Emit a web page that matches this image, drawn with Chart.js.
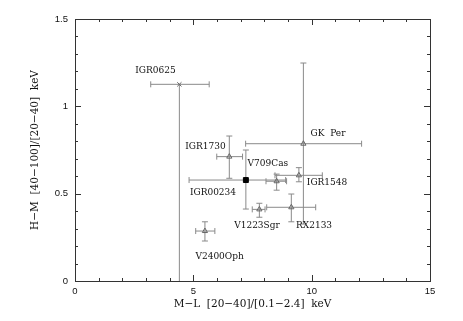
<!DOCTYPE html>
<html>
<head>
<meta charset="utf-8">
<script src="https://cdn.jsdelivr.net/npm/chart.js@4"></script>
<style>
  body { margin: 0; background: #fff; }
  #wrap { width: 463px; height: 321px; position: relative; }
</style>
</head>
<body>
<div id="wrap"><canvas id="hardness"></canvas></div>
<script>
// sources and hardness ratios
const names = ['IGR0625', 'IGR1730', 'IGR00234', 'V709Cas', 'GK  Per', 'IGR1548', 'V1223Sgr', 'RX2133', 'V2400Oph'];
const ml   = [4.41, 6.52, 7.22, 8.52, 9.65, 9.46, 7.79, 9.14, 5.49];
const hm   = [1.126, 0.712, 0.578, 0.571, 0.786, 0.605, 0.41, 0.422, 0.286];
const mlLo = [3.20, 5.99, 4.82, 8.07, 7.21, 8.45, 7.49, 8.10, 5.10];
const mlHi = [5.67, 7.08, 8.90, 8.94, 12.11, 10.45, 8.03, 10.17, 5.91];
const hmLo = [-0.1, 0.588, 0.412, 0.52, 0.326, 0.568, 0.365, 0.339, 0.229];
const hmHi = [1.126, 0.83, 0.75, 0.612, 1.248, 0.649, 0.445, 0.498, 0.339];
const markers = ['crossRot', 'triangle', 'rect', 'triangle', 'triangle', 'triangle', 'triangle', 'triangle', 'triangle'];
// where each name is written (data coords)
const labelX = [3.40, 5.51, 5.83, 8.15, 10.69, 10.65, 7.69, 10.10, 6.11];
const labelY = [1.202, 0.767, 0.503, 0.670, 0.841, 0.561, 0.315, 0.315, 0.137];

const xMajor = [0, 5, 10, 15];
const yMajor = [0, 0.5, 1, 1.5];
const xTitle = 'M\u2212L  [20\u221240]/[0.1\u22122.4]  keV';
const yTitle = 'H\u2212M  [40\u2212100]/[20\u221240]  keV';

const serif = '"DejaVu Serif", serif';

const points = ml.map((x, i) => ({x, y: hm[i]}));

const errorBars = {
  id: 'errorBars',
  beforeDatasetsDraw(chart){
    const {ctx, chartArea:a, scales:{x, y}} = chart;
    ctx.save();
    ctx.beginPath(); ctx.rect(a.left, a.top, a.right - a.left, a.bottom - a.top); ctx.clip();
    ctx.strokeStyle = '#8a8a8a';
    ctx.lineWidth = 1;
    const cap = 3;
    ml.forEach((v, i) => {
      const px = x.getPixelForValue(v), py = y.getPixelForValue(hm[i]);
      const x0 = x.getPixelForValue(mlLo[i]), x1 = x.getPixelForValue(mlHi[i]);
      const y0 = y.getPixelForValue(hmLo[i]), y1 = y.getPixelForValue(hmHi[i]);
      ctx.beginPath();
      ctx.moveTo(x0, py); ctx.lineTo(x1, py);
      ctx.moveTo(x0, py - cap); ctx.lineTo(x0, py + cap);
      ctx.moveTo(x1, py - cap); ctx.lineTo(x1, py + cap);
      ctx.moveTo(px, y0); ctx.lineTo(px, y1);
      if (i !== 0) {
        ctx.moveTo(px - cap, y0); ctx.lineTo(px + cap, y0);
        ctx.moveTo(px - cap, y1); ctx.lineTo(px + cap, y1);
      }
      ctx.stroke();
    });
    ctx.restore();
  },
  afterDraw(chart){
    const {ctx, chartArea:a, scales:{x, y}} = chart;
    ctx.save();
    // names
    ctx.fillStyle = '#111';
    ctx.font = '9px ' + serif;
    ctx.textAlign = 'center';
    ctx.textBaseline = 'middle';
    names.forEach((n, i) => ctx.fillText(n, x.getPixelForValue(labelX[i]), y.getPixelForValue(labelY[i])));

    // frame + inward ticks on all four sides
    ctx.strokeStyle = '#333';
    ctx.lineWidth = 1;
    ctx.strokeRect(a.left + 0.5, a.top + 0.5, a.right - a.left, a.bottom - a.top);
    ctx.beginPath();
    for (let v = 0; v <= 15; v += 1) {
      const len = xMajor.includes(v) ? 6 : 3;
      const px = Math.round(x.getPixelForValue(v)) + 0.5;
      ctx.moveTo(px, a.bottom); ctx.lineTo(px, a.bottom - len);
      ctx.moveTo(px, a.top); ctx.lineTo(px, a.top + len);
    }
    for (let k = 0; k <= 15; k++) {
      const v = k / 10;
      const len = yMajor.some(m => Math.abs(m - v) < 1e-6) ? 6 : 3;
      const py = Math.round(y.getPixelForValue(v)) + 0.5;
      ctx.moveTo(a.left, py); ctx.lineTo(a.left + len, py);
      ctx.moveTo(a.right, py); ctx.lineTo(a.right - len, py);
    }
    ctx.stroke();

    // axis titles
    ctx.fillStyle = '#111';
    ctx.font = '10.5px ' + serif;
    ctx.fillText(xTitle, (a.left + a.right) / 2, 304);
    ctx.translate(35, (a.top + a.bottom) / 2);
    ctx.rotate(-Math.PI / 2);
    ctx.fillText(yTitle, 0, 0);
    ctx.restore();
  }
};

new Chart(document.getElementById('hardness'), {
  type: 'scatter',
  data: {
    datasets: [{
      data: points,
      pointStyle: markers,
      pointRadius: markers.map(m => m === 'rect' ? 3.5 : 3),
      borderColor: markers.map(m => m === 'rect' ? '#000' : '#666'),
      backgroundColor: markers.map(m => m === 'rect' ? '#000' : 'rgba(0,0,0,0)'),
      borderWidth: 1
    }]
  },
  options: {
    responsive: true,
    maintainAspectRatio: false,
    animation: false,
    layout: { padding: { top: 19, right: 33, left: 0, bottom: 0 } },
    plugins: { legend: { display: false }, tooltip: { enabled: false } },
    scales: {
      x: {
        type: 'linear', min: 0, max: 15,
        afterFit(s){ s.height = 40; },
        afterBuildTicks(s){ s.ticks = xMajor.map(v => ({value: v})); },
        grid: { display: false, drawTicks: false },
        border: { display: false },
        ticks: { color: '#111', padding: 5, font: { family: '"Liberation Sans", sans-serif', size: 9.5 }, callback: v => String(v) }
      },
      y: {
        type: 'linear', min: 0, max: 1.5,
        afterFit(s){ s.width = 75; },
        afterBuildTicks(s){ s.ticks = yMajor.map(v => ({value: v})); },
        grid: { display: false, drawTicks: false },
        border: { display: false },
        ticks: { color: '#111', padding: 7, font: { family: '"Liberation Sans", sans-serif', size: 9.5 }, callback: v => String(v) }
      }
    }
  },
  plugins: [errorBars]
});
</script>
</body>
</html>
